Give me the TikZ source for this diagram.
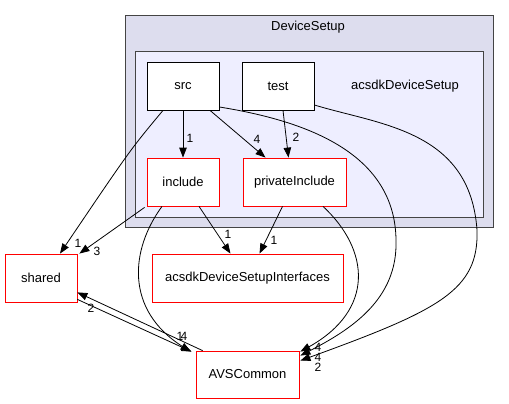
\documentclass[tikz,border=0pt]{standalone}
\usepackage{fontspec}
\setmainfont{Liberation Sans}
\usetikzlibrary{arrows.meta,calc}
\definecolor{clouter}{HTML}{DDDDEE}
\definecolor{clinner}{HTML}{EEEEFF}
\definecolor{clborder}{HTML}{444444}
\begin{document}
\begin{tikzpicture}[x=1pt,y=-1pt,
  font=\fontsize{13}{15}\selectfont,
  dirbox/.style={draw=red,fill=white,line width=0.8pt,minimum height=48pt,inner sep=0pt},
  plainbox/.style={draw=black,fill=white,line width=0.8pt,minimum width=72pt,minimum height=48pt,inner sep=0pt},
  edge/.style={draw=black,line width=0.8pt,-{Triangle[length=10pt,width=7.5pt]}},
  elabel/.style={inner sep=0pt,font=\fontsize{12}{12}\selectfont}]
\useasboundingbox (0,0) rectangle (509,404);
% clusters
\node[draw=clborder,fill=clouter,line width=1pt,minimum width=368pt,minimum height=211pt,inner sep=0pt] (outer) at (309,121.5) {};
\node (outerlbl) at (308,27) {DeviceSetup};
\node[draw=clborder,fill=clinner,line width=1pt,minimum width=348pt,minimum height=165pt,inner sep=0pt] (inner) at (309,134.5) {};
\node (innerlbl) at (405,86) {acsdkDeviceSetup};
% nodes
\node[plainbox] (src) at (183,86) {src};
\node[plainbox] (test) at (278,86) {test};
\node[dirbox,minimum width=72pt] (include) at (183,182) {include};
\node[dirbox,minimum width=103pt] (priv) at (294.5,182) {privateInclude};
\node[dirbox,minimum width=72pt] (shared) at (41,278) {shared};
\node[dirbox,minimum width=191pt] (iface) at (247.5,278) {acsdkDeviceSetupInterfaces};
\node[dirbox,minimum width=103pt,minimum height=47pt] (avs) at (247.5,374.5) {AVSCommon};
% edges
\draw[edge] (src.south) -- (include.north);
\node[elabel] (l1) at (190,138) {1};
\draw[edge] ($(src.south)+(27,0)$) -- ($(priv.north)+(-29,0)$);
\node[elabel] (l2) at (257,139) {4};
\draw[edge] ($(test.south)+(5,0)$) -- ($(priv.north)+(-6,0)$);
\node[elabel] (l3) at (296,137) {2};
\draw[edge] ($(src.south)+(-20,0)$) .. controls (130,150) .. ($(shared.north)+(19,0)$);
\node[elabel] (l4) at (78,243) {1};
\draw[edge] ($(include.south west)+(-2,1)$) -- ($(shared.north east)+(2,0)$);
\node[elabel] (l5) at (97,251) {3};
\draw[edge] ($(include.south)+(16,0)$) -- ($(iface.north)+(-17,0)$);
\node[elabel] (l6) at (228,234) {1};
\draw[edge] ($(priv.south)+(-12,0)$) -- ($(iface.north)+(12,0)$);
\node[elabel] (l7) at (274,240) {1};
\draw[edge] ($(include.south)+(-21,0)$) .. controls (130,250) and (125,310) .. ($(avs.north west)+(-5,1)$);
\draw[edge] ($(shared.south east)+(0,-3)$) -- ($(avs.north west)+(-4,1)$);
\node[elabel] (l8) at (180,336) {1};
\node[elabel] (l9) at (184,336) {4};
\draw[edge] ($(avs.north west)+(7,0)$) -- ($(shared.south east)+(0,-10)$);
\node[elabel] (l10) at (91,308) {2};
\draw[edge] ($(priv.south)+(28.5,0)$) .. controls (370,250) and (375,310) .. ($(avs.north east)+(1,1)$);
\node[elabel] (l11) at (318,347.5) {4};
\draw[edge] ($(src.east)+(0,21)$) .. controls (300,120) and (395,150) .. (396,240) .. controls (398,300) and (350,330) .. ($(avs.north east)+(1,5)$);
\node[elabel] (l12) at (318,357.5) {4};
\draw[edge] ($(test.east)+(0,19)$) .. controls (380,125) and (470,130) .. (477,230) .. controls (479,290) and (440,310) .. ($(avs.north east)+(1,10)$);
\node[elabel] (l13) at (318,367.5) {2};
\end{tikzpicture}
\end{document}
